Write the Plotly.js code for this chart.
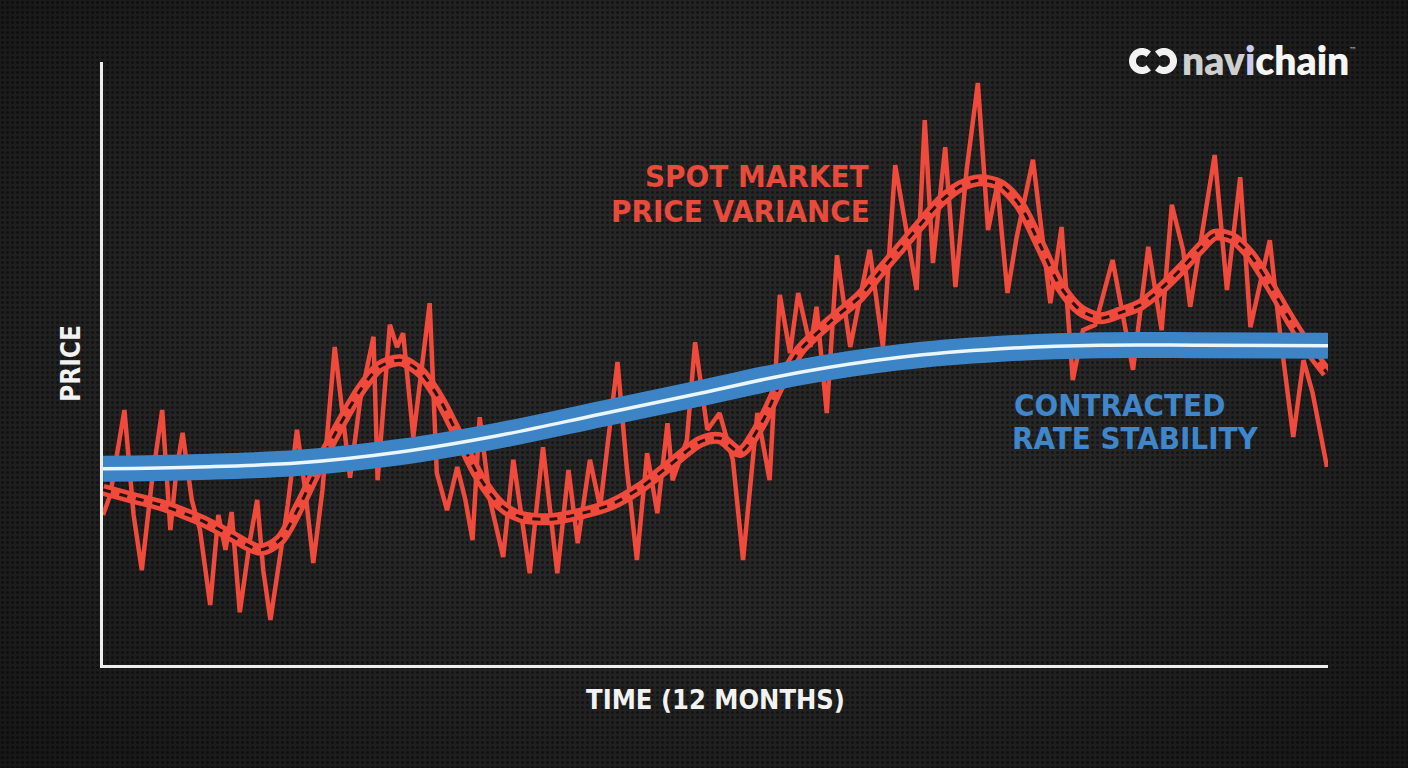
<!DOCTYPE html>
<html>
<head>
<meta charset="utf-8">
<script src="https://cdn.plot.ly/plotly-3.0.1.min.js"></script>
<style>
  html, body { margin:0; padding:0; width:1408px; height:768px; overflow:hidden; }
  body {
    background-color:#262626;
    background-image:
      radial-gradient(ellipse at 50% 45%, rgba(0,0,0,0) 45%, rgba(0,0,0,0.42) 100%),
      radial-gradient(circle, rgba(0,0,0,0.45) 1.1px, rgba(0,0,0,0) 1.7px);
    background-size: 100% 100%, 5px 5px;
  }
  #chart { width:1408px; height:768px; }
</style>
</head>
<body>
<div id="chart"></div>
<script>
// ---- Data (time in months, price as index) ----
const spotMonths = [0.00,0.07,0.21,0.30,0.38,0.48,0.58,0.66,0.72,0.78,0.87,0.95,1.05,1.13,1.20,1.26,1.34,1.44,1.51,1.57,1.64,1.73,1.81,1.90,1.98,2.06,2.15,2.27,2.35,2.42,2.52,2.65,2.69,2.81,2.88,2.94,3.04,3.20,3.27,3.37,3.47,3.55,3.62,3.69,3.79,3.92,4.02,4.18,4.31,4.45,4.56,4.65,4.77,4.87,5.04,5.13,5.23,5.33,5.43,5.53,5.58,5.72,5.80,5.92,6.04,6.17,6.27,6.41,6.53,6.63,6.73,6.81,6.93,6.99,7.09,7.19,7.32,7.51,7.64,7.76,7.97,8.05,8.13,8.25,8.35,8.46,8.57,8.67,8.76,8.86,8.95,9.11,9.28,9.39,9.50,9.60,9.72,9.89,10.09,10.24,10.37,10.47,10.58,10.65,10.89,11.01,11.14,11.24,11.43,11.53,11.66,11.76,11.85,11.99];
const spotPrice  = [25.0,28.3,42.5,25.0,15.8,30.8,42.5,22.5,32.5,38.7,27.5,22.5,10.0,25.0,19.2,25.5,8.8,20.8,27.5,15.8,7.5,17.5,26.7,39.2,29.2,17.0,29.2,53.0,40.8,31.2,44.2,54.7,30.8,56.7,53.0,55.3,38.0,60.3,32.0,25.8,33.0,27.5,20.8,41.3,27.5,18.0,34.2,15.3,36.3,15.3,32.5,20.3,34.2,26.3,50.5,33.0,17.5,35.3,25.3,40.3,30.8,37.5,53.8,39.2,42.0,34.2,17.5,42.0,30.8,61.7,52.0,62.0,53.0,59.7,42.0,68.3,53.0,69.2,53.0,83.3,62.5,90.8,67.0,86.3,63.0,82.5,97.0,72.5,80.0,62.0,71.3,84.2,60.3,73.0,47.5,55.8,56.7,67.5,49.2,69.7,55.8,76.7,69.2,59.7,85.0,62.5,81.3,56.3,70.8,55.3,38.0,50.8,45.3,33.0];

const trendMonths = [0,0.26,0.56,0.95,1.24,1.54,1.73,1.93,2.13,2.32,2.52,2.71,2.91,3.11,3.30,3.50,3.69,3.89,4.09,4.38,4.67,4.97,5.26,5.55,5.85,6.04,6.24,6.44,6.63,6.83,7.12,7.42,7.61,7.81,8.00,8.20,8.40,8.59,8.79,8.98,9.18,9.37,9.57,9.77,9.96,10.16,10.35,10.55,10.75,10.89,11.06,11.24,11.43,11.63,11.82,11.99];
const spotTrend   = [29.2,28.0,26.7,24.2,21.7,19.2,20.8,26.7,33.8,40.0,45.8,49.7,50.8,48.8,44.2,37.5,31.2,26.7,24.7,24.3,25.2,26.7,29.5,33.3,37.2,37.8,35.5,40.0,46.7,52.5,57.2,61.5,65.5,69.5,73.3,77.2,79.8,80.8,80.0,76.7,70.0,63.3,59.2,57.8,58.7,60.0,62.5,65.8,69.5,71.7,71.2,68.3,63.3,57.5,52.5,48.7];

const contractMonths = [0,0.95,1.93,2.91,3.89,4.87,5.85,6.83,7.81,8.79,9.77,10.75,12.0];
const contractRate   = [32.7,33.0,33.7,35.5,38.3,41.8,45.3,48.8,51.3,52.7,53.3,53.3,53.2];

const labels = {
  spot: ["SPOT MARKET", "PRICE VARIANCE"],
  contract: ["CONTRACTED", "RATE STABILITY"],
  xTitle: "TIME (12 MONTHS)",
  yTitle: "PRICE"
};

const RED = '#ef4a3b', BLUE = '#3d84c6';
const FONT = '"Liberation Sans Narrow", "DejaVu Sans Condensed", Roboto, sans-serif';

const traces = [
  {x: spotMonths, y: spotPrice, mode:'lines', line:{color:RED, width:4.5, shape:'linear'}, hoverinfo:'skip'},
  {x: trendMonths, y: spotTrend, mode:'lines', line:{color:RED, width:12, shape:'spline', smoothing:0.8}, hoverinfo:'skip'},
  {x: trendMonths, y: spotTrend, mode:'lines', line:{color:'#2a1210', width:3, shape:'spline', smoothing:0.8, dash:'8px,9px'}, hoverinfo:'skip'},
  {x: contractMonths, y: contractRate, mode:'lines', line:{color:BLUE, width:26, shape:'spline', smoothing:1}, hoverinfo:'skip'},
  {x: contractMonths, y: contractRate, mode:'lines', line:{color:'#eaf5ff', width:3.5, shape:'spline', smoothing:1}, hoverinfo:'skip'}
];

// logo link icon (decoration) in pixel space -> paper
const L = 103, T = 62, PW = 1225, PH = 603;
function arcPath(cx, cy, r, a0, a1) {
  let d = '';
  const n = 28;
  for (let i = 0; i <= n; i++) {
    const a = (a0 + (a1 - a0) * i / n) * Math.PI / 180;
    const px = cx + r * Math.cos(a), py = cy - r * Math.sin(a);
    const xp = (px - L) / PW, yp = (T + PH - py) / PH;
    d += (i === 0 ? 'M' : ' L') + xp.toFixed(5) + ',' + yp.toFixed(5);
  }
  return d;
}

const shapes = [
  {type:'path', xref:'paper', yref:'paper', path: arcPath(1142, 61, 9.5, 45, 315), line:{color:'#f2f2f2', width:7}, layer:'above'},
  {type:'path', xref:'paper', yref:'paper', path: arcPath(1164, 61, 9.5, -135, 135), line:{color:'#f2f2f2', width:7}, layer:'above'}
];

const annFont = (c, s) => ({family: FONT, size: s, color: c, weight: 700});
const annotations = [
  {x: 7.51, y: 81.5, xref:'x', yref:'y', text: labels.spot[0], showarrow:false, xanchor:'right', yanchor:'middle', font: annFont('#e84a3c', 31)},
  {x: 7.53, y: 75.7, xref:'x', yref:'y', text: labels.spot[1], showarrow:false, xanchor:'right', yanchor:'middle', font: annFont('#e84a3c', 31)},
  {x: 8.90, y: 43.3, xref:'x', yref:'y', text: labels.contract[0], showarrow:false, xanchor:'left', yanchor:'middle', font: annFont('#3f86cb', 31)},
  {x: 8.88, y: 37.8, xref:'x', yref:'y', text: labels.contract[1], showarrow:false, xanchor:'left', yanchor:'middle', font: annFont('#3f86cb', 31)},
  {x: (1180 - L) / PW, y: (T + PH - 60) / PH, xref:'paper', yref:'paper', showarrow:false, xanchor:'left', yanchor:'middle',
   text: '<span style="color:#cfcfcf">nav</span><span style="color:#c9cdf2">i</span><span style="color:#f5f5f5">chain</span>',
   font: {family:'Lato, "Open Sans", sans-serif', size:39, color:'#f0f0f0', weight:800}},
  {x: (1347 - L) / PW, y: (T + PH - 50) / PH, xref:'paper', yref:'paper', showarrow:false, xanchor:'left', yanchor:'middle',
   text: '™', font: {family:'DejaVu Sans', size:8, color:'#bbbbbb'}}
];

const layout = {
  width: 1408, height: 768,
  margin: {l: L, r: 1408 - L - PW, t: T, b: 768 - T - PH, pad: 0},
  paper_bgcolor: 'rgba(0,0,0,0)', plot_bgcolor: 'rgba(0,0,0,0)',
  showlegend: false, hovermode: false,
  xaxis: {range: [0, 12], showgrid:false, zeroline:false, showticklabels:false, ticks:'',
          showline:true, linecolor:'#eeeeee', linewidth:3, fixedrange:true,
          title: {text: labels.xTitle, standoff: 24, font: {family: FONT, size: 27, color:'#f2f2f2', weight:700}}},
  yaxis: {range: [0, 100.5], showgrid:false, zeroline:false, showticklabels:false, ticks:'',
          showline:true, linecolor:'#eeeeee', linewidth:3, fixedrange:true,
          title: {text: labels.yTitle, standoff: 12, font: {family: FONT, size: 26, color:'#f2f2f2', weight:700}}},
  shapes: shapes,
  annotations: annotations
};

Plotly.newPlot('chart', traces, layout, {staticPlot: true, displayModeBar: false});
</script>
</body>
</html>
